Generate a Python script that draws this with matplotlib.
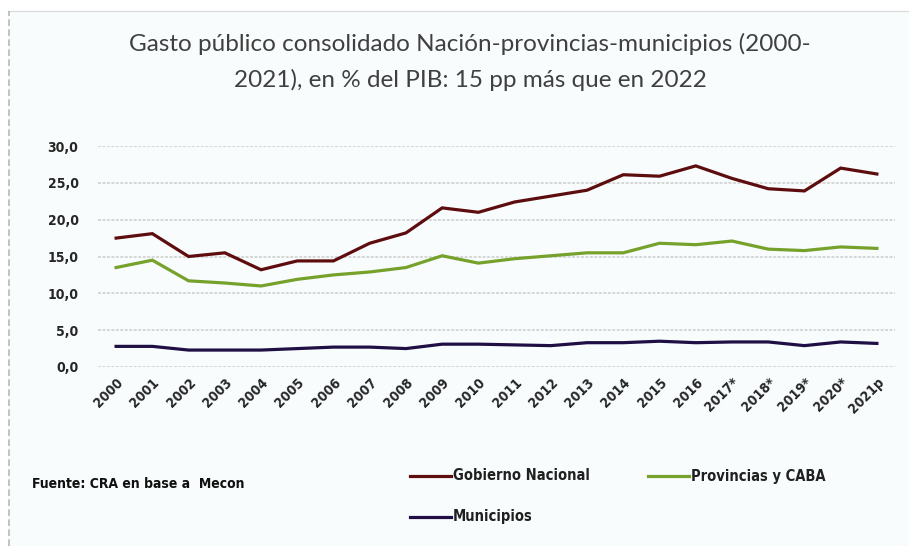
import matplotlib
matplotlib.use("Agg")
import matplotlib.pyplot as plt
from matplotlib.lines import Line2D

# Data: consolidated public spending, % of GDP
years = ["2000", "2001", "2002", "2003", "2004", "2005", "2006", "2007", "2008",
         "2009", "2010", "2011", "2012", "2013", "2014", "2015", "2016",
         "2017*", "2018*", "2019*", "2020*", "2021p"]
gobierno_nacional = [17.5, 18.1, 15.0, 15.5, 13.2, 14.4, 14.4, 16.8, 18.2, 21.6, 21.0,
                     22.4, 23.2, 24.0, 26.1, 25.9, 27.3, 25.6, 24.2, 23.9, 27.0, 26.2]
provincias_caba = [13.5, 14.5, 11.7, 11.4, 11.0, 11.9, 12.5, 12.9, 13.5, 15.1, 14.1,
                   14.7, 15.1, 15.5, 15.5, 16.8, 16.6, 17.1, 16.0, 15.8, 16.3, 16.1]
municipios = [2.8, 2.8, 2.3, 2.3, 2.3, 2.5, 2.7, 2.7, 2.5, 3.1, 3.1,
              3.0, 2.9, 3.3, 3.3, 3.5, 3.3, 3.4, 3.4, 2.9, 3.4, 3.2]
yticks = [0, 5, 10, 15, 20, 25, 30]
ytick_labels = ["0,0", "5,0", "10,0", "15,0", "20,0", "25,0", "30,0"]

series = [
    ("Gobierno Nacional", gobierno_nacional, "#5e0d0f"),
    ("Provincias y CABA", provincias_caba, "#76a22c"),
    ("Municipios", municipios, "#1f0f45"),
]

small_font = dict(family="DejaVu Sans", stretch="condensed")
title_font = ["Lato", "DejaVu Sans"]
bg = "#f8fcfd"

fig = plt.figure(figsize=(9.09, 5.46), dpi=100)
fig.patch.set_facecolor("white")

# Chart area panel with its frame
panel = plt.Rectangle((8 / 909, 0), 1 - 8 / 909, 1 - 11 / 546, transform=fig.transFigure,
                      facecolor=bg, edgecolor="none", zorder=-5)
fig.add_artist(panel)
fig.add_artist(Line2D([8 / 909, 1], [1 - 11 / 546] * 2, transform=fig.transFigure,
                      color="#d8dcdc", lw=0.9, zorder=-4))
fig.add_artist(Line2D([8.5 / 909] * 2, [0, 1 - 11 / 546], transform=fig.transFigure,
                      color="#b8b8b8", lw=1.2, linestyle=(0, (4, 2)), zorder=-4))

ax = fig.add_axes([98 / 909, 1 - 367 / 546, (895 - 98) / 909, (367 - 146) / 546])
ax.set_facecolor("none")

x = list(range(len(years)))
for name, vals, col in series:
    ax.plot(x, vals, color=col, lw=2.3, solid_joinstyle="miter", label=name, zorder=3)

ax.set_xlim(-0.5, len(years) - 0.5)
ax.set_ylim(0, 30)
ax.set_yticks(yticks)
ax.set_yticklabels(ytick_labels, fontsize=10, fontweight="bold", color="#262626",
                   **small_font)
ax.set_xticks(x)
ax.set_xticklabels(years, rotation=45, ha="right", va="top", rotation_mode="anchor",
                   fontsize=10, fontweight="bold", color="#262626", **small_font)
ax.tick_params(axis="both", length=0)
ax.tick_params(axis="y", pad=14)
ax.tick_params(axis="x", pad=6)
for s in ax.spines.values():
    s.set_visible(False)
ax.yaxis.grid(True, color="#d6d6d6", lw=1.4, linestyle=(0, (1.5, 0.8)))
ax.set_axisbelow(True)

# Title
fig.text(470 / 909, 1 - 44 / 546,
         "Gasto público consolidado Nación-provincias-municipios (2000-",
         ha="center", va="center", fontsize=17.5, color="#404040", family=title_font)
fig.text(470 / 909, 1 - 80 / 546, "2021), en % del PIB: 15 pp más que en 2022",
         ha="center", va="center", fontsize=17.5, color="#404040", family=title_font)

# Source note
fig.text(32 / 909, 1 - 484 / 546, "Fuente: CRA en base a  Mecon", ha="left", va="center",
         fontsize=10, fontweight="bold", color="#101010", **small_font)

# Legend entries
legend_pos = [(410, 476), (648, 476), (410, 517)]
for (name, vals, col), (lx, ly) in zip(series, legend_pos):
    yf = 1 - ly / 546
    fig.add_artist(Line2D([lx / 909, (lx + 41) / 909], [yf, yf], transform=fig.transFigure,
                          color=col, lw=2.3))
    fig.text((lx + 43) / 909, yf, name, ha="left", va="center", fontsize=10.5,
             fontweight="bold", color="#202020", **small_font)

fig.savefig("out.png", dpi=100, facecolor=fig.get_facecolor())
